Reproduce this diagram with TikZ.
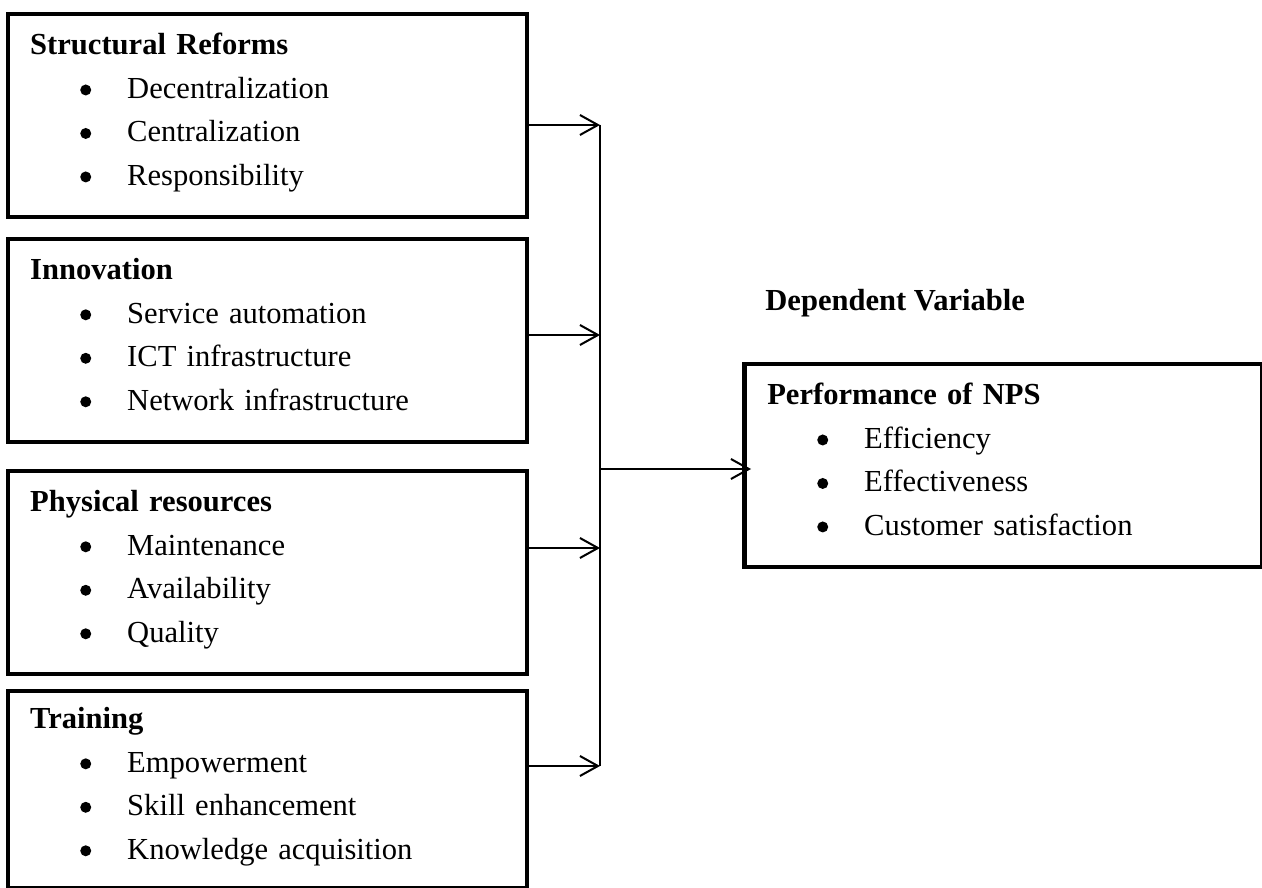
\documentclass[tikz,border=0pt]{standalone}
\usepackage{fontspec}
\setmainfont{Liberation Serif}
\usetikzlibrary{arrows.meta,positioning,calc}
\newcommand{\bdot}{\tikz[baseline={(0,-0.165cm)}]\fill (0,0) circle (0.11cm);}
\newcommand{\bitem}[1]{\\\hspace*{1.0cm}\makebox[0.94cm][l]{\bdot}#1}
\tikzset{
  varbox/.style={draw=black,line width=0.09cm,anchor=north west,align=left,text width=9.5cm,inner xsep=0.44cm,inner ysep=0pt,minimum height=4.06cm,font=\fontsize{17.4}{24.75}\selectfont},
  link/.style={line width=0.04cm,draw=black},
  linkarrow/.style={link,-{Straight Barb[length=0.36cm,width=0.4cm]}},
  headlab/.style={font=\fontsize{17.4}{24.75}\selectfont\bfseries,anchor=base west,inner sep=0pt}
}
\begin{document}
\begin{tikzpicture}[x=0.02cm,y=-0.02cm]
  \useasboundingbox (0,0) rectangle (1262,888);
  \node[varbox] (struct) at (6,12)  {\textbf{Structural Reforms}\bitem{Decentralization}\bitem{Centralization}\bitem{Responsibility}\strut};
  \node[varbox] (innov)  at (6,237) {\textbf{Innovation}\bitem{Service automation}\bitem{ICT infrastructure}\bitem{Network infrastructure}\strut};
  \node[varbox] (phys)   at (6,469) {\textbf{Physical resources}\bitem{Maintenance}\bitem{Availability}\bitem{Quality}\strut};
  \node[varbox,minimum height=3.94cm] (train) at (6,689) {\textbf{Training}\bitem{Empowerment}\bitem{Skill enhancement}\bitem{Knowledge acquisition}\strut};
  \node[varbox,text width=9.44cm,inner xsep=0.46cm] (perf) at (742,362) {\textbf{Performance of NPS}\bitem{Efficiency}\bitem{Effectiveness}\bitem{Customer satisfaction}\strut};
  \node[headlab] (dep) at (765,311) {Dependent Variable};
  \coordinate (j1) at (600,125);
  \coordinate (j2) at (600,335);
  \coordinate (j3) at (600,548);
  \coordinate (j4) at (600,766);
  \coordinate (jm) at (600,469);
  \draw[linkarrow] (struct.east |- j1) -- (j1);
  \draw[linkarrow] (innov.east |- j2) -- (j2);
  \draw[linkarrow] (phys.east |- j3) -- (j3);
  \draw[linkarrow] (train.east |- j4) -- (j4);
  \draw[link] (j1) -- (j4);
  \draw[linkarrow,shorten >=-0.18cm] (jm) -- (jm -| perf.west);
\end{tikzpicture}
\end{document}
